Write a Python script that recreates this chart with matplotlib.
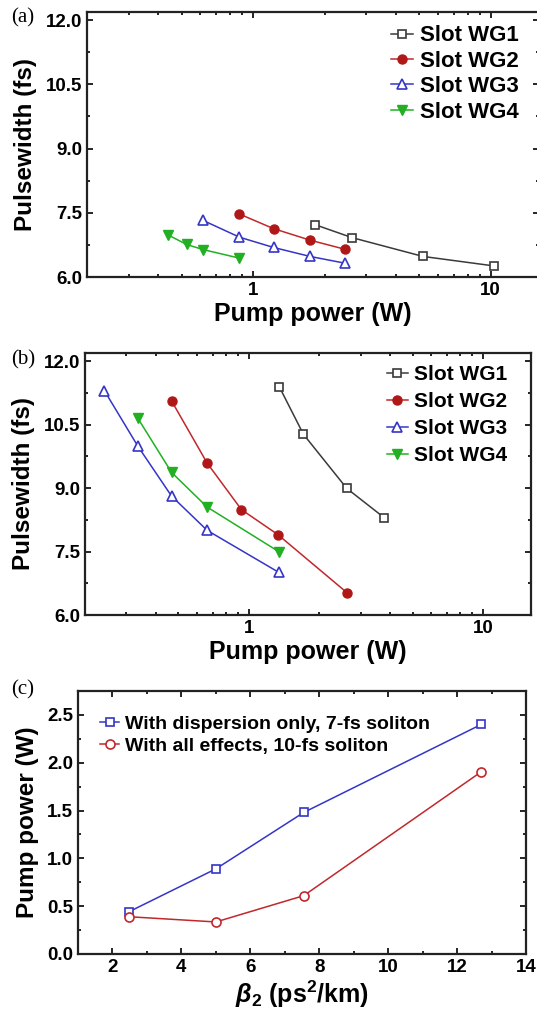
import numpy as np
import matplotlib
matplotlib.use('Agg')
import matplotlib.pyplot as plt
from matplotlib.ticker import FixedLocator, FuncFormatter, LogLocator, MultipleLocator, NullFormatter

plt.rcParams['font.family'] = ['Liberation Sans', 'DejaVu Sans']
plt.rcParams['font.weight'] = 'bold'
plt.rcParams['mathtext.fontset'] = 'custom'
plt.rcParams['mathtext.it'] = 'Liberation Sans:italic:bold'
plt.rcParams['mathtext.rm'] = 'Liberation Sans:bold'

# ---- panel (a) data ----
a_wg1_x = [1.83, 2.61, 5.2, 10.3]
a_wg1_y = [7.22, 6.92, 6.48, 6.26]
a_wg2_x = [0.877, 1.22, 1.74, 2.43]
a_wg2_y = [7.47, 7.13, 6.86, 6.65]
a_wg3_x = [0.617, 0.877, 1.22, 1.74, 2.45]
a_wg3_y = [7.32, 6.93, 6.69, 6.48, 6.32]
a_wg4_x = [0.44, 0.525, 0.617, 0.877]
a_wg4_y = [6.98, 6.76, 6.64, 6.44]

# ---- panel (b) data ----
b_wg1_x = [1.35, 1.71, 2.62, 3.78]
b_wg1_y = [11.39, 10.27, 8.99, 8.30]
b_wg2_x = [0.468, 0.664, 0.93, 1.33, 2.62]
b_wg2_y = [11.06, 9.59, 8.49, 7.90, 6.53]
b_wg3_x = [0.242, 0.336, 0.468, 0.664, 1.34]
b_wg3_y = [11.30, 9.99, 8.81, 8.00, 7.01]
b_wg4_x = [0.336, 0.468, 0.664, 1.34]
b_wg4_y = [10.65, 9.37, 8.55, 7.50]

labels = ['Slot WG1', 'Slot WG2', 'Slot WG3', 'Slot WG4']

# ---- panel (c) data ----
beta2 = [2.47, 5.0, 7.55, 12.7]
disp_only = [0.44, 0.89, 1.48, 2.40]
all_effects = [0.39, 0.335, 0.61, 1.905]
c_labels = ['With dispersion only, 7-fs soliton', 'With all effects, 10-fs soliton']

W, H = 537, 1011
fig = plt.figure(figsize=(W/100, H/100), dpi=100)

def box(l, r, t, b):
    return [l/W, 1 - b/H, (r - l)/W, (b - t)/H]

gray = '#3a3a3a'
red = '#c0282c'
blue = '#3535c8'
green = '#22b022'

def style_axes(ax):
    for s in ax.spines.values():
        s.set_linewidth(1.6)
        s.set_color('#222222')
    ax.tick_params(which='both', direction='in', top=True, right=True, labelsize=13.5, width=1.2)
    ax.tick_params(which='major', length=4)
    ax.tick_params(which='minor', length=2.5)
    for t in ax.get_xticklabels() + ax.get_yticklabels():
        t.set_fontweight('bold')

def pulse_panel(ax, series, leg_size, leg_anchor, leg_space):
    (x1, y1), (x2, y2), (x3, y3), (x4, y4) = series
    ax.plot(x1, y1, '-s', color=gray, mfc='white', mec=gray, ms=6, lw=1.1, mew=1.2, label=labels[0])
    ax.plot(x2, y2, '-o', color=red, mfc='#b01818', mec='#b01818', ms=6.5, lw=1.1, label=labels[1])
    ax.plot(x3, y3, '-^', color=blue, mfc='white', mec=blue, ms=7, lw=1.1, mew=1.2, label=labels[2])
    ax.plot(x4, y4, '-v', color=green, mfc=green, mec=green, ms=7, lw=1.1, label=labels[3])
    ax.set_xscale('log')
    ax.set_xlim(0.2, 16)
    ax.set_ylim(6.0, 12.19)
    ax.xaxis.set_major_locator(FixedLocator([1, 10]))
    ax.xaxis.set_major_formatter(FuncFormatter(lambda v, p: '%g' % v))
    ax.xaxis.set_minor_locator(LogLocator(base=10, subs=np.arange(2, 10)))
    ax.xaxis.set_minor_formatter(NullFormatter())
    ax.yaxis.set_major_locator(MultipleLocator(1.5))
    ax.yaxis.set_minor_locator(MultipleLocator(0.75))
    ax.yaxis.set_major_formatter(FuncFormatter(lambda v, p: '%.1f' % v))
    ax.set_xlabel('Pump power (W)', fontsize=18, fontweight='bold', labelpad=2)
    ax.set_ylabel('Pulsewidth (fs)', fontsize=17.5, fontweight='bold', labelpad=6)
    style_axes(ax)
    ax.legend(loc='upper right', bbox_to_anchor=leg_anchor, frameon=False,
              handlelength=1.0, handletextpad=0.3, labelspacing=leg_space, borderaxespad=0.2,
              prop={'weight': 'bold', 'size': leg_size})

ax_a = fig.add_axes(box(87, 539, 12, 277))
pulse_panel(ax_a, [(a_wg1_x, a_wg1_y), (a_wg2_x, a_wg2_y), (a_wg3_x, a_wg3_y), (a_wg4_x, a_wg4_y)],
            16, (0.985, 1.0), 0.2)

ax_b = fig.add_axes(box(85, 531, 353, 615))
pulse_panel(ax_b, [(b_wg1_x, b_wg1_y), (b_wg2_x, b_wg2_y), (b_wg3_x, b_wg3_y), (b_wg4_x, b_wg4_y)],
            15, (0.975, 1.0), 0.38)

ax_c = fig.add_axes(box(78, 526, 691, 954))
ax_c.plot(beta2, disp_only, '-s', color=blue, mfc='white', mec=blue, ms=6, mew=1.2, lw=1.1, label=c_labels[0])
ax_c.plot(beta2, all_effects, '-o', color=red, mfc='white', mec=red, ms=6.5, mew=1.2, lw=1.1, label=c_labels[1])
ax_c.set_xlim(1, 14)
ax_c.set_ylim(0, 2.75)
ax_c.xaxis.set_major_locator(FixedLocator([2, 4, 6, 8, 10, 12, 14]))
ax_c.xaxis.set_minor_locator(MultipleLocator(1))
ax_c.yaxis.set_major_locator(MultipleLocator(0.5))
ax_c.yaxis.set_minor_locator(MultipleLocator(0.25))
ax_c.yaxis.set_major_formatter(FuncFormatter(lambda v, p: '%.1f' % v))
ax_c.set_xlabel(r'$\beta_2$ (ps$^2$/km)', fontsize=18, fontweight='bold', labelpad=2)
ax_c.set_ylabel('Pump power (W)', fontsize=17.5, fontweight='bold', labelpad=6)
style_axes(ax_c)
ax_c.legend(loc='upper left', bbox_to_anchor=(0.01, 0.975), frameon=False,
            handlelength=1.0, handletextpad=0.3, labelspacing=0.25,
            prop={'weight': 'bold', 'size': 14})

# panel tags
for tag, ypx in [('(a)', 18), ('(b)', 360), ('(c)', 690)]:
    fig.text(11/W, 1 - ypx/H, tag, fontsize=15, family='Liberation Serif',
             fontweight='normal', ha='left', va='center')

fig.savefig('out.png', dpi=100)
